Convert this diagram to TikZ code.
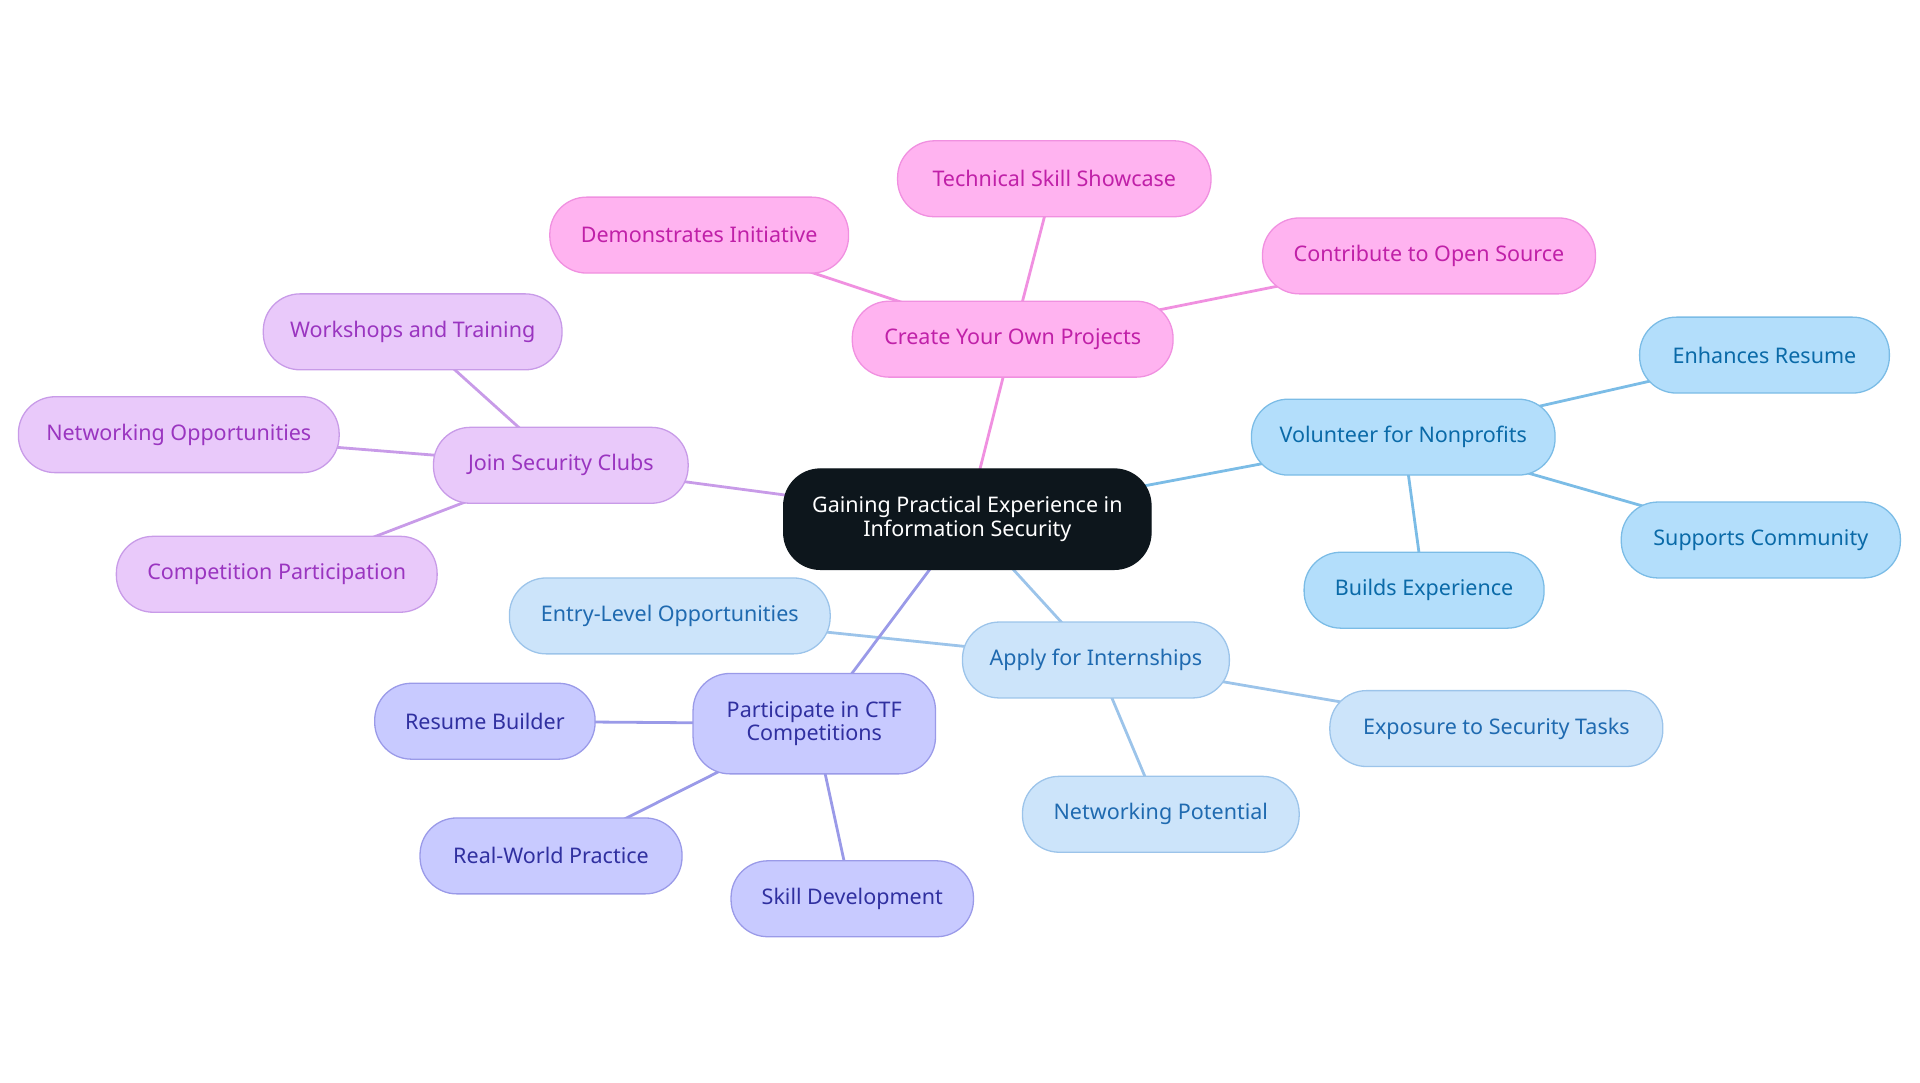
\documentclass[tikz,border=0pt]{standalone}
\usepackage{fontspec}
\setmainfont{Noto Sans}
\usetikzlibrary{backgrounds}
\definecolor{cfill}{HTML}{0D161C}
\definecolor{pkf}{HTML}{FFB3F0}\definecolor{pkd}{HTML}{F090E0}\definecolor{pkt}{HTML}{C020A8}
\definecolor{puf}{HTML}{E9C9FA}\definecolor{pud}{HTML}{C89BE8}\definecolor{put}{HTML}{9A35C0}
\definecolor{inf}{HTML}{C8CAFF}\definecolor{ind}{HTML}{9A9AE8}\definecolor{intx}{HTML}{3030A0}
\definecolor{lbf}{HTML}{CCE4FA}\definecolor{lbd}{HTML}{9CC4EA}\definecolor{lbt}{HTML}{1F6AB0}
\definecolor{blf}{HTML}{B3DEFB}\definecolor{bld}{HTML}{7BBCE6}\definecolor{blt}{HTML}{0A6AA8}
\begin{document}
\begin{tikzpicture}[x=0.02cm,y=-0.02cm,
 box/.style={rounded corners=0.6cm,minimum height=1.24cm,inner sep=0pt,align=center,font=\fontsize{10}{11}\selectfont,line width=0.6pt},
 pk/.style={box,fill=pkf,draw=pkd,text=pkt},
 pu/.style={box,fill=puf,draw=pud,text=put},
 ig/.style={box,fill=inf,draw=ind,text=intx},
 lb/.style={box,fill=lbf,draw=lbd,text=lbt},
 bl/.style={box,fill=blf,draw=bld,text=blt},
 e/.style={line width=1.3pt}]
\useasboundingbox (0,0) rectangle (1568,884);
\node[box,fill=cfill,text=white,draw=cfill,minimum width=6cm,minimum height=1.64cm] (c) at (790,424) {Gaining Practical Experience in\\Information Security};
\node[pk,minimum width=5.24cm] (p) at (827,277) {Create Your Own Projects};
\node[pk,minimum width=5.12cm] (p1) at (861,146) {Technical Skill Showcase};
\node[pk,minimum width=4.88cm] (p2) at (571,192) {Demonstrates Initiative};
\node[pk,minimum width=5.44cm] (p3) at (1167,209) {Contribute to Open Source};
\node[pu,minimum width=4.16cm] (s) at (458,380) {Join Security Clubs};
\node[pu,minimum width=4.88cm] (s1) at (337,271) {Workshops and Training};
\node[pu,minimum width=5.24cm] (s2) at (146,355) {Networking Opportunities};
\node[pu,minimum width=5.24cm] (s3) at (226,469) {Competition Participation};
\node[bl,minimum width=4.96cm] (v) at (1146,357) {Volunteer for Nonprofits};
\node[bl,minimum width=4.08cm] (v1) at (1441,290) {Enhances Resume};
\node[bl,minimum width=4.56cm] (v2) at (1438,441) {Supports Community};
\node[bl,minimum width=3.92cm] (v3) at (1163,482) {Builds Experience};
\node[lb,minimum width=4.36cm] (a) at (895,539) {Apply for Internships};
\node[lb,minimum width=5.24cm] (a1) at (547,503) {Entry-Level Opportunities};
\node[lb,minimum width=5.44cm] (a2) at (1222,595) {Exposure to Security Tasks};
\node[lb,minimum width=4.52cm] (a3) at (948,665) {Networking Potential};
\node[ig,minimum width=3.96cm,minimum height=1.64cm] (t) at (665,591) {Participate in CTF\\Competitions};
\node[ig,minimum width=3.6cm] (t1) at (396,589) {Resume Builder};
\node[ig,minimum width=4.28cm] (t2) at (450,699) {Real-World Practice};
\node[ig,minimum width=3.96cm] (t3) at (696,734) {Skill Development};
\begin{scope}[on background layer]
\draw[e,draw=pkd] (c.center) -- (p.center) (p.center) -- (p1.center) (p.center) -- (p2.center) (p.center) -- (p3.center);
\draw[e,draw=pud] (c.center) -- (s.center) (s.center) -- (s1.center) (s.center) -- (s2.center) (s.center) -- (s3.center);
\draw[e,draw=bld] (c.center) -- (v.center) (v.center) -- (v1.center) (v.center) -- (v2.center) (v.center) -- (v3.center);
\draw[e,draw=lbd] (c.center) -- (a.center) (a.center) -- (a1.center) (a.center) -- (a2.center) (a.center) -- (a3.center);
\draw[e,draw=ind] (c.center) -- (t.center) (t.center) -- (t1.center) (t.center) -- (t2.center) (t.center) -- (t3.center);
\end{scope}
\end{tikzpicture}
\end{document}
